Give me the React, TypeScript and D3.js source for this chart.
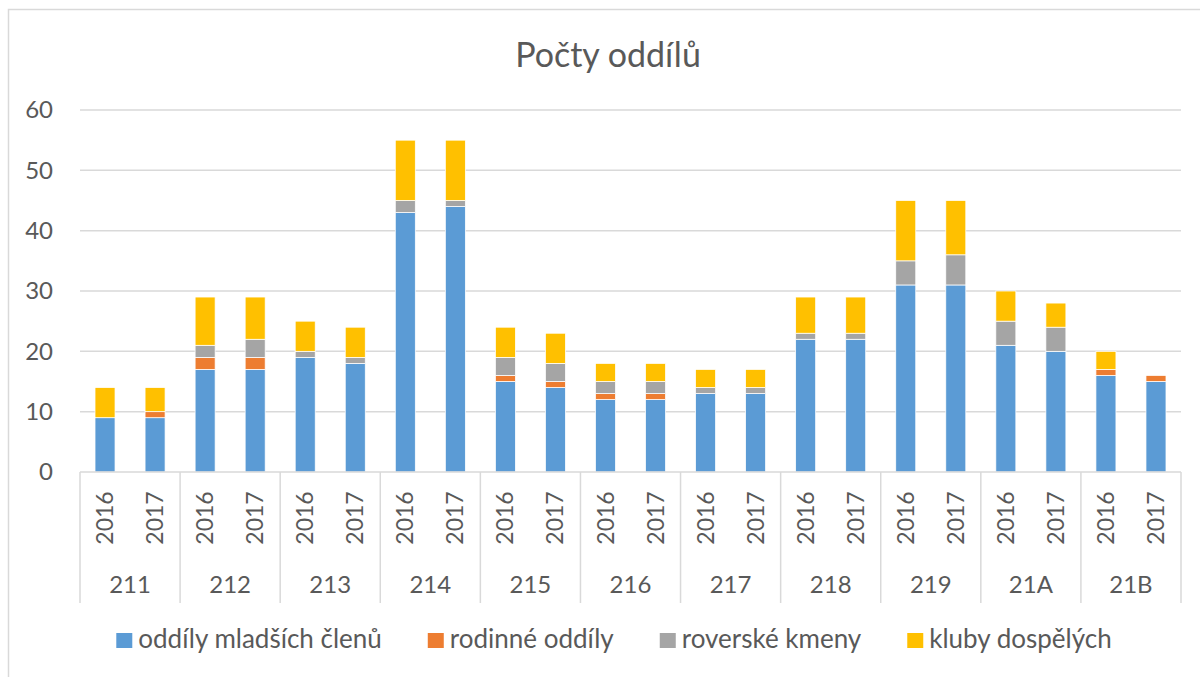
import * as d3 from 'd3';
import React, { useRef, useEffect } from 'react';

const groups = ['211', '212', '213', '214', '215', '216', '217', '218', '219', '21A', '21B'];
const years = ['2016', '2017'];
const seriesNames = ['oddíly mladších členů', 'rodinné oddíly', 'roverské kmeny', 'kluby dospělých'];
const seriesColors = ['#5B9BD5', '#ED7D31', '#A5A5A5', '#FFC000'];

// values per bar, order: 211/2016, 211/2017, 212/2016, ...
const mladsi = [9, 9, 17, 17, 19, 18, 43, 44, 15, 14, 12, 12, 13, 13, 22, 22, 31, 31, 21, 20, 16, 15];
const rodinne = [0, 1, 2, 2, 0, 0, 0, 0, 1, 1, 1, 1, 0, 0, 0, 0, 0, 0, 0, 0, 1, 1];
const roverske = [0, 0, 2, 3, 1, 1, 2, 1, 3, 3, 2, 2, 1, 1, 1, 1, 4, 5, 4, 4, 0, 0];
const kluby = [5, 4, 8, 7, 5, 5, 10, 10, 5, 5, 3, 3, 3, 3, 6, 6, 10, 9, 5, 4, 3, 0];
const yTicks = [0, 10, 20, 30, 40, 50, 60];

const W = 1200, H = 677;
const FONT = 'Lato, sans-serif';
const TXT = '#595959';
const GRID = '#D9D9D9';

function App() {
  const ref = useRef(null);

  useEffect(() => {
    const svg = d3.select(ref.current);
    svg.selectAll('*').remove();

    const left = 80, right = 1181, top = 110, bottom = 472;

    // chart frame
    svg.append('rect')
      .attr('x', 8.5).attr('y', 9.5).attr('width', 1250).attr('height', 720)
      .attr('fill', 'white').attr('stroke', GRID).attr('stroke-width', 1.5);

    svg.append('text')
      .attr('x', 608).attr('y', 67)
      .attr('text-anchor', 'middle')
      .attr('font-family', FONT).attr('font-size', 34).attr('fill', TXT)
      .text('Počty oddílů');

    const y = d3.scaleLinear().domain([0, 60]).range([bottom, top]);
    const xg = d3.scaleBand().domain(groups).range([left, right]).padding(0);
    const xy = d3.scaleBand().domain(years).range([0, xg.bandwidth()]).padding(0);
    const barW = xy.bandwidth() * 0.4;

    // gridlines
    svg.append('g').selectAll('line').data(yTicks.slice(1)).enter().append('line')
      .attr('x1', left).attr('x2', right)
      .attr('y1', d => y(d)).attr('y2', d => y(d))
      .attr('stroke', GRID).attr('stroke-width', 1.5);

    svg.append('g').selectAll('text').data(yTicks).enter().append('text')
      .attr('x', 53).attr('y', d => y(d))
      .attr('dy', '0.35em')
      .attr('text-anchor', 'end')
      .attr('font-family', FONT).attr('font-size', 24).attr('fill', TXT)
      .text(d => d);

    // bars
    const rows = [];
    groups.forEach((g, gi) => {
      years.forEach((yr, yi) => {
        const i = gi * 2 + yi;
        rows.push({ g, yr, s0: mladsi[i], s1: rodinne[i], s2: roverske[i], s3: kluby[i] });
      });
    });
    const stack = d3.stack().keys(['s0', 's1', 's2', 's3']);
    const layers = stack(rows);

    svg.append('g').selectAll('g').data(layers).enter().append('g')
      .attr('fill', (d, i) => seriesColors[i])
      .selectAll('rect').data(d => d.filter(p => p[1] > p[0])).enter().append('rect')
      .attr('x', d => xg(d.data.g) + xy(d.data.yr) + (xy.bandwidth() - barW) / 2)
      .attr('width', barW)
      .attr('y', d => y(d[1]))
      .attr('height', d => y(d[0]) - y(d[1]))
      .attr('stroke', 'white').attr('stroke-width', 0.75);

    // category axis
    svg.append('line')
      .attr('x1', left).attr('x2', right).attr('y1', bottom).attr('y2', bottom)
      .attr('stroke', GRID).attr('stroke-width', 1.5);

    const bounds = groups.map(g => xg(g)).concat([right]);
    svg.append('g').selectAll('line').data(bounds).enter().append('line')
      .attr('x1', d => d).attr('x2', d => d)
      .attr('y1', bottom).attr('y2', 603)
      .attr('stroke', GRID).attr('stroke-width', 1.5);

    rows.forEach(r => {
      const cx = xg(r.g) + xy(r.yr) + xy.bandwidth() / 2;
      svg.append('text')
        .attr('transform', `translate(${cx},518) rotate(-90)`)
        .attr('text-anchor', 'middle').attr('dy', '0.35em')
        .attr('font-family', FONT).attr('font-size', 23).attr('fill', TXT)
        .text(r.yr);
    });

    svg.append('g').selectAll('text').data(groups).enter().append('text')
      .attr('x', d => xg(d) + xg.bandwidth() / 2).attr('y', 593)
      .attr('text-anchor', 'middle')
      .attr('font-family', FONT).attr('font-size', 24).attr('fill', TXT)
      .text(d => d);

    // legend
    const leg = svg.append('g');
    const items = seriesNames.map((name, i) => {
      const gItem = leg.append('g');
      gItem.append('rect').attr('x', 0).attr('y', 633).attr('width', 16).attr('height', 15)
        .attr('fill', seriesColors[i]);
      const t = gItem.append('text').attr('x', 22).attr('y', 648)
        .attr('font-family', FONT).attr('font-size', 26).attr('fill', TXT)
        .text(name);
      const w = 22 + t.node().getComputedTextLength();
      return { gItem, w };
    });
    const gap = 46;
    const total = d3.sum(items, d => d.w) + gap * (items.length - 1);
    let cur = 614 - total / 2;
    items.forEach(it => {
      it.gItem.attr('transform', `translate(${cur},0)`);
      cur += it.w + gap;
    });
  }, []);

  return (
    <svg ref={ref} width={W} height={H} style={{ position: 'absolute', left: 0, top: 0, display: 'block' }}>
    </svg>
  );
}

export default App;
